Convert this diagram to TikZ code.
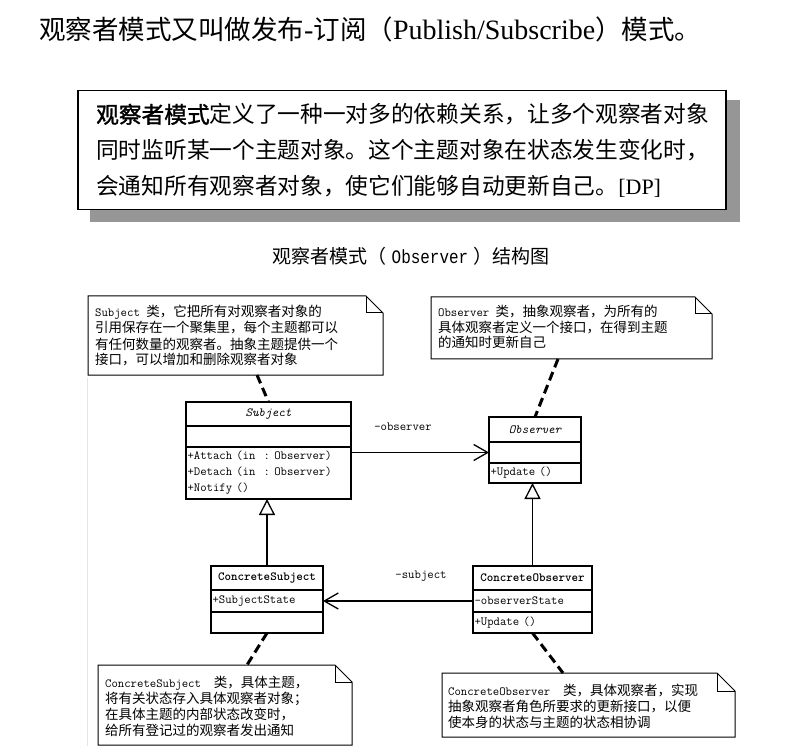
\documentclass[tikz,border=0pt]{standalone}
\usepackage{fontspec}
\setmainfont{Liberation Serif}
\newfontfamily\cjk{Noto Sans CJK SC}
\newfontfamily\cjkbold[FakeBold=1.4]{Noto Sans CJK SC}
\newfontfamily\capmono[FakeStretch=0.84]{Liberation Mono}
\newcommand\monof{\ttfamily}
\usetikzlibrary{arrows.meta}
\definecolor{shadowgray}{RGB}{150,150,150}
\newcommand\lt[1]{{\ttfamily\fontsize{12.4}{16}\selectfont #1}}
\newcommand\nt{\cjk\fontsize{13.5}{16}\selectfont}
\newcommand\tcj[1]{{\cjk\fontsize{26.5}{30}\selectfont #1}}
\newcommand\bch[1]{\makebox[1em][l]{#1}}
\newcommand\drawnote[2]{%
  \draw[noteline] (#1.north west) -- ([xshift=-#2]#1.north east) -- ([yshift=-#2]#1.north east) -- (#1.south east) -- (#1.south west) -- cycle;
  \draw[noteline] ([xshift=-#2]#1.north east) -- ([xshift=-#2,yshift=-#2]#1.north east) -- ([yshift=-#2]#1.north east);}
\tikzset{
 comp/.style={draw, line width=1.3pt, inner xsep=1.5pt, inner ysep=0pt, outer sep=0pt, anchor=north west, font=\ttfamily\fontsize{12.4}{16}\selectfont},
 notebg/.style={inner sep=0pt, outer sep=0pt, anchor=north west},
 noteline/.style={line width=1pt, line join=miter},
 ntxt/.style={anchor=base west, inner sep=0pt, font=\nt},
 notelink/.style={line width=3pt, dash pattern=on 9pt off 5pt},
 gen/.style={line width=1.3pt, -{Triangle[open, length=16pt, width=16pt, fill=white]}},
 assoc/.style={line width=1.3pt, -{Straight Barb[length=14pt, width=16pt]}},
 lbl/.style={inner sep=0pt, font=\ttfamily\fontsize{12.4}{16}\selectfont},
 defline/.style={anchor=base west, inner sep=0pt, font=\cjk\fontsize{22.7}{30}\selectfont},
}
\begin{document}
\begin{tikzpicture}[x=1pt,y=-1pt]
\useasboundingbox (0,0) rectangle (804,754);
\fill[white] (0,0) rectangle (804,754);

% title
\node[anchor=base west, inner sep=0pt, font=\fontsize{28}{30}\selectfont] (title) at (39,40)
  {\tcj{观察者模式又叫做发布}-\tcj{订阅（}Publish/Subscribe\tcj{）模式。}};

% definition box
\fill[shadowgray] (90,100) rectangle (740,222);
\node[draw, line width=1.5pt, fill=white, minimum width=648pt, minimum height=119pt, anchor=north west, inner sep=0pt] (defbox) at (77,90) {};
\node[defline] (def1) at (96,123) {{\cjkbold\bch{观}\bch{察}\bch{者}\bch{模}\bch{式}}定义了一种一对多的依赖关系，让多个观察者对象};
\node[defline] (def2) at (96,159) {同时监听某一个主题对象。这个主题对象在状态发生变化时，};
\node[defline] (def3) at (96,195) {会通知所有观察者对象，使它们能够自动更新自己。{\rmfamily\fontsize{22}{30}\selectfont [DP]}};

% caption
\node[anchor=base, inner sep=0pt, font=\cjk\fontsize{19}{22}\selectfont] (caption) at (411,264)
  {观察者模式（\hspace{5pt}{\capmono Observer}\hspace{5pt}）结构图};

% faint scan line
\draw[black!10, line width=1pt] (87,378) -- (87,746);

% Subject
\node[comp, text width=162pt, minimum height=24pt, align=center] (sname) at (186,402) {\itshape Subject};
\node[comp, text width=162pt, minimum height=21pt] (sattr) at (186,426) {};
\node[comp, text width=162pt, minimum height=52pt, align=left] (sops) at (186,447)
  {+Attach (in~~:~Observer)\\+Detach (in~~:~Observer)\\+Notify ()};

% Observer
\node[comp, text width=89pt, minimum height=25pt, align=center] (oname) at (489,417) {\itshape Observer};
\node[comp, text width=89pt, minimum height=21pt] (oattr) at (489,442) {};
\node[comp, text width=89pt, minimum height=20pt, align=left] (oops) at (489,463) {+Update ()};

% ConcreteSubject
\node[comp, text width=109pt, minimum height=24pt, align=center] (csname) at (211,566) {\bfseries ConcreteSubject};
\node[comp, text width=109pt, minimum height=22pt, align=left] (csattr) at (211,590) {+SubjectState};
\node[comp, text width=109pt, minimum height=21pt] (csops) at (211,612) {};

% ConcreteObserver
\node[comp, text width=116pt, minimum height=24pt, align=center] (coname) at (473,566) {\bfseries ConcreteObserver};
\node[comp, text width=116pt, minimum height=22pt, align=left] (coattr) at (473,590) {-observerState};
\node[comp, text width=116pt, minimum height=21pt, align=left] (coops) at (473,612) {+Update ()};

% notes
\node[notebg, minimum width=295pt, minimum height=79pt] (snote) at (88,296) {};
\drawnote{snote}{17pt}
\foreach \t [count=\i] in {{\lt{Subject }类，它把所有对观察者对象的},{引用保存在一个聚集里，每个主题都可以},{有任何数量的观察者。抽象主题提供一个},{接口，可以增加和删除观察者对象}}
  \node[ntxt] (snt\i) at (95,{317+16*(\i-1)}) {\t};

\node[notebg, minimum width=281pt, minimum height=62pt] (onote) at (431,297) {};
\drawnote{onote}{17pt}
\foreach \t [count=\i] in {{\lt{Observer }类，抽象观察者，为所有的},{具体观察者定义一个接口，在得到主题},{的通知时更新自己}}
  \node[ntxt] (ont\i) at (438,{317+15.5*(\i-1)}) {\t};

\node[notebg, minimum width=254pt, minimum height=80pt] (csnote) at (98,665) {};
\drawnote{csnote}{17pt}
\foreach \t [count=\i] in {{\lt{ConcreteSubject~~}类，具体主题，},{将有关状态存入具体观察者对象；},{在具体主题的内部状态改变时，},{给所有登记过的观察者发出通知}}
  \node[ntxt] (cst\i) at (105,{687+16*(\i-1)}) {\t};

\node[notebg, minimum width=293pt, minimum height=64pt] (conote) at (442,673) {};
\drawnote{conote}{18pt}
\foreach \t [count=\i] in {{\lt{ConcreteObserver~~}类，具体观察者，实现},{抽象观察者角色所要求的更新接口，以便},{使本身的状态与主题的状态相协调}}
  \node[ntxt] (cot\i) at (448,{695+16*(\i-1)}) {\t};

% note links
\draw[notelink] ([xshift=21.5pt]snote.south) -- (sname.north);
\draw[notelink] ([xshift=-13.5pt]onote.south) -- (oname.north);
\draw[notelink] (coops.south) -- ([xshift=-25.5pt]conote.north);
\draw[notelink] (csops.south) -- ([xshift=22pt]csnote.north);

% generalizations
\draw[gen] (csname.north) -- (csname.north |- sops.south);
\draw[gen] (coname.north) -- (coname.north |- oops.south);

% associations
\draw[assoc] (sops.east |- oattr.west) -- (oattr.west);
\draw[assoc] (coattr.west) -- (csattr.east);
\node[lbl] (lobs) at (403,427) {-observer};
\node[lbl] (lsub) at (421,576) {-subject};
\end{tikzpicture}
\end{document}
